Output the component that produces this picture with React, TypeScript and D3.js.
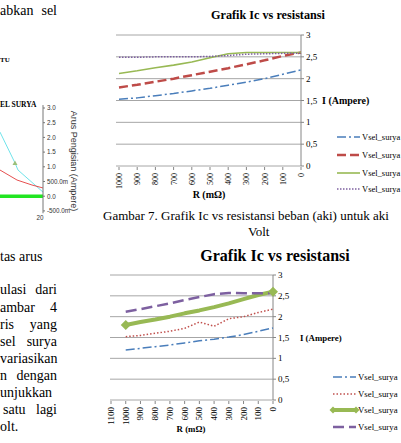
import React from 'react';
import * as d3 from 'd3';

// upper chart: current vs load resistance
const resTop = [1000, 900, 800, 700, 600, 500, 400, 300, 200, 100, 0];
const topBlue = [1.53, 1.56, 1.61, 1.66, 1.72, 1.78, 1.85, 1.92, 2.0, 2.1, 2.2];
const topRed = [1.8, 1.86, 1.93, 2.0, 2.08, 2.16, 2.24, 2.33, 2.42, 2.52, 2.6];
const topGreen = [2.12, 2.18, 2.25, 2.31, 2.38, 2.48, 2.57, 2.6, 2.6, 2.6, 2.6];
const topPurple = [2.49, 2.49, 2.5, 2.5, 2.5, 2.51, 2.53, 2.56, 2.57, 2.58, 2.58];

// lower chart
const resBottom = [1100, 1000, 900, 800, 700, 600, 500, 400, 300, 200, 100, 0];
const botBlue = [null, 1.2, 1.24, 1.28, 1.32, 1.37, 1.42, 1.46, 1.51, 1.57, 1.65, 1.73];
const botRed = [null, 1.52, 1.55, 1.6, 1.65, 1.72, 1.87, 1.77, 1.95, 2.0, 2.1, 2.18];
const botGreen = [null, 1.8, 1.87, 1.93, 2.0, 2.08, 2.15, 2.23, 2.32, 2.42, 2.52, 2.6];
const botPurple = [null, 2.12, 2.18, 2.25, 2.32, 2.4, 2.47, 2.54, 2.57, 2.56, 2.56, 2.56];

const ampTicks = [0, 0.5, 1, 1.5, 2, 2.5, 3];
const legendName = 'Vsel_surya';

// partial charging chart at the left edge
const leftTicks = [3.0, 2.5, 2.0, 1.5, 1.0, 0.5, 0.0, -0.5];
const cyanT = [16, 17.5, 17.8, 20.3];
const cyanV = [2.18, 1.13, 0.89, 0.14];
const redT = [16, 17.7, 19.2, 20.3];
const redV = [0.89, 0.55, 0.38, 0.28];
const greenT = [16, 20.3];
const greenV = [0, 0];

const serif = '"Liberation Serif", "Times New Roman", serif';
const sans = '"Liberation Sans", Arial, sans-serif';

const fmtComma = (v: number) => String(v).replace('.', ',');
const fmtMilli = (v: number) =>
  Math.abs(v) < 1 && v !== 0 ? `${(v * 1000).toFixed(1)}m` : v.toFixed(1);

type Series = { values: (number | null)[]; color: string; width: number; dash?: string; ends?: boolean };

function LineChart({ cats, series, x0, x1, yTop, yBottom, gridLeft, title, titleX, titleY, titleSize,
  tickSize, labelSize, ampX, ampY, ampSize, rX, rY, legendX, legendY, legendSize }: any) {
  const x = d3.scalePoint<number>().domain(cats).range([x0, x1]);
  const y = d3.scaleLinear().domain([0, 3]).range([yBottom, yTop]);
  const line = d3.line<number | null>()
    .defined(d => d != null)
    .x((_, i) => x(cats[i]) as number)
    .y(d => y(d as number));

  const diamond = (cx: number, cy: number, r: number, color: string, key: string) => (
    <path key={key} d={`M${cx},${cy - r}L${cx + r},${cy}L${cx},${cy + r}L${cx - r},${cy}Z`} fill={color} />
  );

  return (
    <g>
      <text x={titleX} y={titleY} fontSize={titleSize} fontWeight="bold" textAnchor="middle" fontFamily={serif}>{title}</text>
      {ampTicks.map(t => (
        <line key={'g' + t} x1={gridLeft} x2={x1} y1={y(t)} y2={y(t)} stroke="#a6a6a6" strokeWidth={1} />
      ))}
      <line x1={x1} x2={x1} y1={y(3)} y2={y(0)} stroke="#868686" />
      {ampTicks.map(t => (
        <g key={'t' + t}>
          <line x1={x1} x2={x1 + 3} y1={y(t)} y2={y(t)} stroke="#868686" />
          <text x={x1 + 5} y={y(t) + 3} fontSize={tickSize} fontFamily={serif}>{fmtComma(t)}</text>
        </g>
      ))}
      {cats.map((c: number) => (
        <g key={'c' + c} transform={`translate(${x(c)},${y(0)})`}>
          <line y1={1} y2={4} stroke="#868686" />
          <text transform="rotate(-90)" x={-7} y={3} fontSize={labelSize} textAnchor="end" fontFamily={serif}>{c}</text>
        </g>
      ))}
      <text x={ampX} y={ampY} fontSize={ampSize} fontWeight="bold" fontFamily={serif}>I (Ampere)</text>
      <text x={rX} y={rY} fontSize={ampSize} fontWeight="bold" textAnchor="middle" fontFamily={serif}>R (mΩ)</text>
      {series.map((s: Series, i: number) => (
        <path key={'s' + i} d={line(s.values) || ''} fill="none" stroke={s.color} strokeWidth={s.width}
          strokeDasharray={s.dash} strokeLinejoin="round" />
      ))}
      {series.filter((s: Series) => s.ends).map((s: Series) => {
        const idx = s.values.map((v, i) => (v == null ? -1 : i)).filter(i => i >= 0);
        return [idx[0], idx[idx.length - 1]].map(i =>
          diamond(x(cats[i]) as number, y(s.values[i] as number), 5, s.color, 'd' + i));
      })}
      {series.map((s: Series, i: number) => {
        const ly = legendY[i];
        return (
          <g key={'l' + i}>
            <line x1={legendX} x2={legendX + 23} y1={ly} y2={ly} stroke={s.color} strokeWidth={s.width}
              strokeDasharray={s.dash} />
            {s.ends && diamond(legendX, ly, 3.5, s.color, 'la')}
            {s.ends && diamond(legendX + 23, ly, 3.5, s.color, 'lb')}
            <text x={legendX + 25} y={ly + 3} fontSize={legendSize} fontFamily={serif}>{legendName}</text>
          </g>
        );
      })}
    </g>
  );
}

function PartialChart() {
  const x = d3.scaleLinear().domain([10, 20]).range([-60, 40]);
  const y = d3.scaleLinear().domain([0, 3]).range([196.2, 108]);
  const line = d3.line<number>().x(d => x(d[0])).y(d => y(d[1]));
  const pts = (t: number[], v: number[]) => t.map((d, i) => [d, v[i]]) as any;
  return (
    <g>
      <text x={0} y={107} fontSize={7.5} fontWeight="bold" fontFamily={serif}>EL SURYA</text>
      <path d={line(pts(cyanT, cyanV)) || ''} fill="none" stroke="#6fe3ea" strokeWidth={1} />
      <path d={`M${x(cyanT[1])},${y(cyanV[1]) - 2.5}l2.5,4.5h-5z`} fill="#9bbf7a" />
      <path d={line(pts(redT, redV)) || ''} fill="none" stroke="#e23c3c" strokeWidth={0.9} />
      <path d={line(pts(greenT, greenV)) || ''} fill="none" stroke="#21e521" strokeWidth={3.5} />
      <line x1={43} x2={43} y1={y(3.1)} y2={y(-0.58)} stroke="#777" />
      {leftTicks.map(t => (
        <g key={t}>
          <line x1={43} x2={45} y1={y(t)} y2={y(t)} stroke="#777" />
          <text x={47} y={y(t) + 2.3} fontSize={6.3} fontFamily={sans} fill="#333">{fmtMilli(t)}</text>
        </g>
      ))}
      <text transform={`translate(71,161) rotate(90)`} fontSize={9} textAnchor="middle" fontFamily={sans} fill="#333">
        Arus Pengisian (Ampere)
      </text>
      <text x={40} y={220} fontSize={6.3} textAnchor="middle" fontFamily={sans} fill="#333">20</text>
    </g>
  );
}

// justified body text of the left column: [baseline, first word, second word]
const columnLines: [number, string, string][] = [
  [15, 'abkan', 'sel'],
  [261, 'tas arus', ''],
  [294, 'ulasi', 'dari'],
  [312, 'ambar', '4'],
  [329, 'ris', 'yang'],
  [346, 'sel', 'surya'],
  [363, 'variasikan', ''],
  [380, 'n', 'dengan'],
  [397, 'unjukkan', ''],
  [414, 'satu', 'lagi'],
  [431, 'olt.', ''],
];

export default function App() {
  const topSeries: Series[] = [
    { values: topBlue, color: '#4a7ebb', width: 1.5, dash: '9 3 2 3' },
    { values: topRed, color: '#be4b48', width: 2.5, dash: '9 4' },
    { values: topGreen, color: '#98b954', width: 1.6 },
    { values: topPurple, color: '#7d60a0', width: 1.5, dash: '1.5 1.5' },
  ];
  const botSeries: Series[] = [
    { values: botBlue, color: '#4a7ebb', width: 1.5, dash: '9 3 2 3' },
    { values: botRed, color: '#c0504d', width: 1.5, dash: '1.5 2' },
    { values: botGreen, color: '#98b954', width: 4, ends: true },
    { values: botPurple, color: '#7d60a0', width: 2.5, dash: '11 5' },
  ];

  return (
    <svg width={401} height={443} viewBox="0 0 401 443"
      style={{ position: 'absolute', left: 0, top: 0, background: '#fff' }}>
      <rect width={401} height={443} fill="#fff" />
      {columnLines.map(([yy, left, right]) => (
        <g key={yy} fontSize={14} fontFamily={serif}>
          <text x={left === 'satu' ? 3 : 0} y={yy}>{left}</text>
          {right && <text x={57} y={yy} textAnchor="end">{right}</text>}
        </g>
      ))}
      <text x={0} y={62} fontSize={7} fontWeight="bold" fontFamily={serif}>TU</text>
      <PartialChart />

      <LineChart cats={resTop} series={topSeries} x0={119} x1={301} yTop={35} yBottom={166} gridLeft={116}
        title="Grafik Ic vs resistansi" titleX={268} titleY={19} titleSize={12.2}
        tickSize={9} labelSize={8} ampX={322} ampY={104} ampSize={10} rX={209} rY={198}
        legendX={337} legendY={[137, 155, 173, 189]} legendSize={8.5} />

      <text x={103} y={220} fontSize={13} fontFamily={serif}>Gambar 7. Grafik Ic vs resistansi beban (aki) untuk aki</text>
      <text x={248} y={236} fontSize={13} fontFamily={serif}>Volt</text>

      <LineChart cats={resBottom} series={botSeries} x0={111} x1={273} yTop={275} yBottom={400} gridLeft={110}
        title="Grafik Ic vs resistansi" titleX={275} titleY={261} titleSize={16}
        tickSize={9} labelSize={9} ampX={300} ampY={341} ampSize={8.8} rX={191} rY={432}
        legendX={333} legendY={[377, 394, 410, 427]} legendSize={8.8} />
    </svg>
  );
}
